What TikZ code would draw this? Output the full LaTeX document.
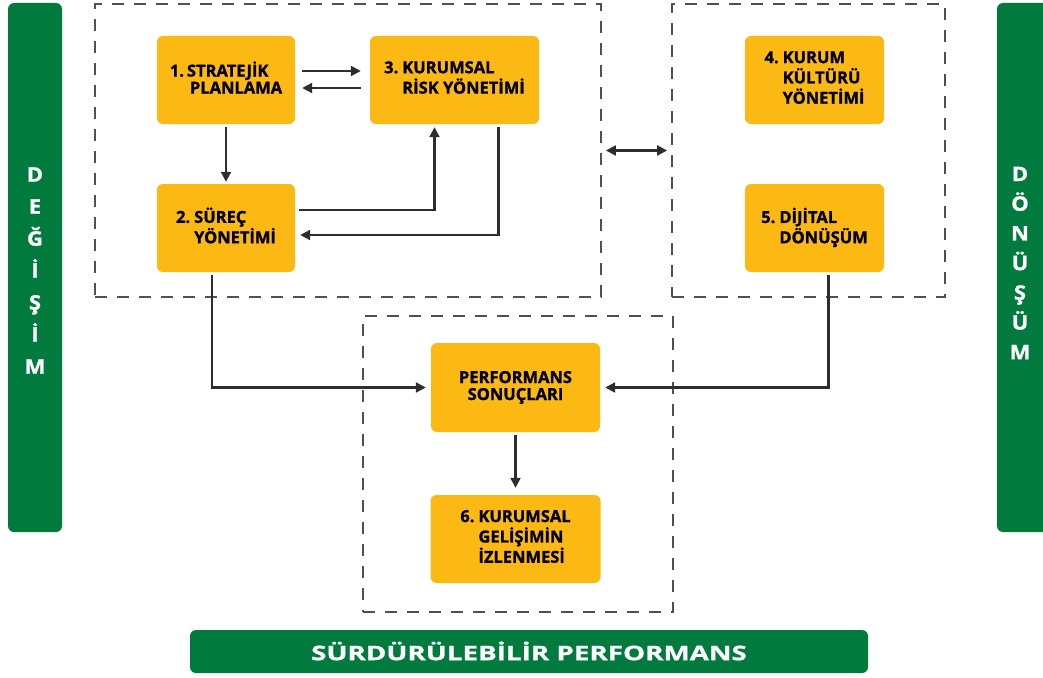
\documentclass[tikz,border=0pt]{standalone}
\usepackage{fontspec}
\setmainfont{Open Sans}
\newfontfamily\boxfont{Open Sans}[BoldFeatures={FakeBold=1.2}]
\newfontfamily\barfont{Open Sans}[FakeStretch=1.39,BoldFeatures={FakeBold=1.2}]
\newfontfamily\sidefont{Open Sans}[FakeStretch=1.1,BoldFeatures={FakeBold=1.2}]
\usetikzlibrary{arrows.meta}
\definecolor{dorange}{RGB}{253,185,19}
\definecolor{dgreen}{RGB}{0,122,61}
\definecolor{dline}{RGB}{45,45,45}
\definecolor{ddash}{RGB}{80,80,80}
\tikzset{
  ybox/.style={fill=dorange, rounded corners=6pt, inner sep=0pt, minimum width=#1, minimum height=88pt,
    font=\boxfont\bfseries\fontsize{16.5}{17}\selectfont, text=black, align=center},
  ybox/.default=138pt,
  dbox/.style={draw=ddash, line width=1.8pt, dash pattern=on 12pt off 10pt, inner sep=0pt},
  gbar/.style={fill=dgreen, rounded corners=6pt, inner sep=0pt},
  conn/.style={draw=dline, line width=2.2pt, -{Triangle[length=10pt,width=10pt]}},
  sidetext/.style={text=white, font=\sidefont\bfseries\fontsize{20}{32}\selectfont, align=center, inner sep=0pt},
}
\begin{document}
\begin{tikzpicture}[x=1pt,y=-1pt]
\useasboundingbox (0,0) rectangle (1043,677);
\clip (0,0) rectangle (1043,677);
% dashed group boxes
\node[dbox, minimum width=506pt, minimum height=293pt] (g1) at (348,150.5) {};
\node[dbox, minimum width=273pt, minimum height=293pt] (g2) at (808.5,150.5) {};
\node[dbox, minimum width=310pt, minimum height=296pt] (g3) at (518,464) {};
% green bars
\node[gbar, minimum width=54pt, minimum height=529pt] (lbar) at (35,267.5) {};
\node[gbar, minimum width=60pt, minimum height=529pt] (rbar) at (1027,267.5) {};
\node[gbar, minimum width=678pt, minimum height=43pt] (bbar) at (529,651.5) {};
\node[sidetext] (ltext) at (35,270.5) {D\\E\\Ğ\\İ\\Ş\\İ\\M};
\node[sidetext, font=\sidefont\bfseries\fontsize{20}{29.7}\selectfont] (rtext) at (1020,263) {D\\Ö\\N\\Ü\\Ş\\Ü\\M};
\node[text=white, font=\barfont\bfseries\fontsize{20}{20}\selectfont, inner sep=0pt] (btext) at (529,651) {SÜRDÜRÜLEBİLİR PERFORMANS};
% orange boxes
\node[ybox] (s1) at (226,80) {\begin{tabular}{@{}l@{\hspace{3pt}}l@{}}1. & STRATEJİK\\ & \hspace{3pt}PLANLAMA\end{tabular}};
\node[ybox] (s2) at (226,228) {\begin{tabular}{@{}l@{\hspace{4pt}}l@{}}2. & SÜREÇ\\ & YÖNETİMİ\end{tabular}};
\node[ybox=169pt] (s3) at (454.5,80) {\begin{tabular}{@{}l@{\hspace{4pt}}l@{}}3. & KURUMSAL\\ & RİSK YÖNETİMİ\end{tabular}};
\node[ybox=139pt] (s4) at (814.5,80) {\begin{tabular}{@{}l@{\hspace{4pt}}l@{}}4. & KURUM\\ & KÜLTÜRÜ\\ & YÖNETİMİ\end{tabular}};
\node[ybox=139pt] (s5) at (814.5,228) {\begin{tabular}{@{}l@{\hspace{4pt}}l@{}}5. & DİJİTAL\\ & DÖNÜŞÜM\end{tabular}};
\node[ybox=169pt, minimum height=89pt] (perf) at (515.5,387.5) {PERFORMANS\\SONUÇLARI};
\node[ybox=170pt] (s6) at (515.5,539) {\begin{tabular}{@{}l@{\hspace{4pt}}l@{}}6. & KURUMSAL\\ & GELİŞİMİN\\ & İZLENMESİ\end{tabular}};
% connectors
\draw[conn] ([xshift=7pt,yshift=9pt]s1.east) -- ([xshift=-9pt,yshift=9pt]s3.west);
\draw[conn] ([xshift=-9pt,yshift=-8pt]s3.west) -- ([xshift=7pt,yshift=-8pt]s1.east);
\draw[conn] ([yshift=-3pt]s1.south) -- ([yshift=2pt]s2.north);
\draw[conn] ([xshift=4pt,yshift=18pt]s2.east) -| ([xshift=-20pt,yshift=-3pt]s3.south);
\draw[conn] ([xshift=44pt,yshift=-3pt]s3.south) |- ([xshift=5pt,yshift=-7pt]s2.east);
\draw[draw=dline, line width=2.2pt, {Triangle[length=10pt,width=10pt]}-{Triangle[length=10pt,width=10pt]}] ([xshift=4pt]g1.east) -- ([xshift=-4pt]g2.west);
\draw[conn] ([xshift=-14pt,yshift=-3pt]s2.south) |- ([xshift=-5pt]perf.west);
\draw[conn] ([xshift=14pt,yshift=-3pt]s5.south) |- ([xshift=5pt]perf.east);
\draw[conn] ([yshift=-3pt]perf.south) -- ([yshift=7pt]s6.north);
\end{tikzpicture}
\end{document}
